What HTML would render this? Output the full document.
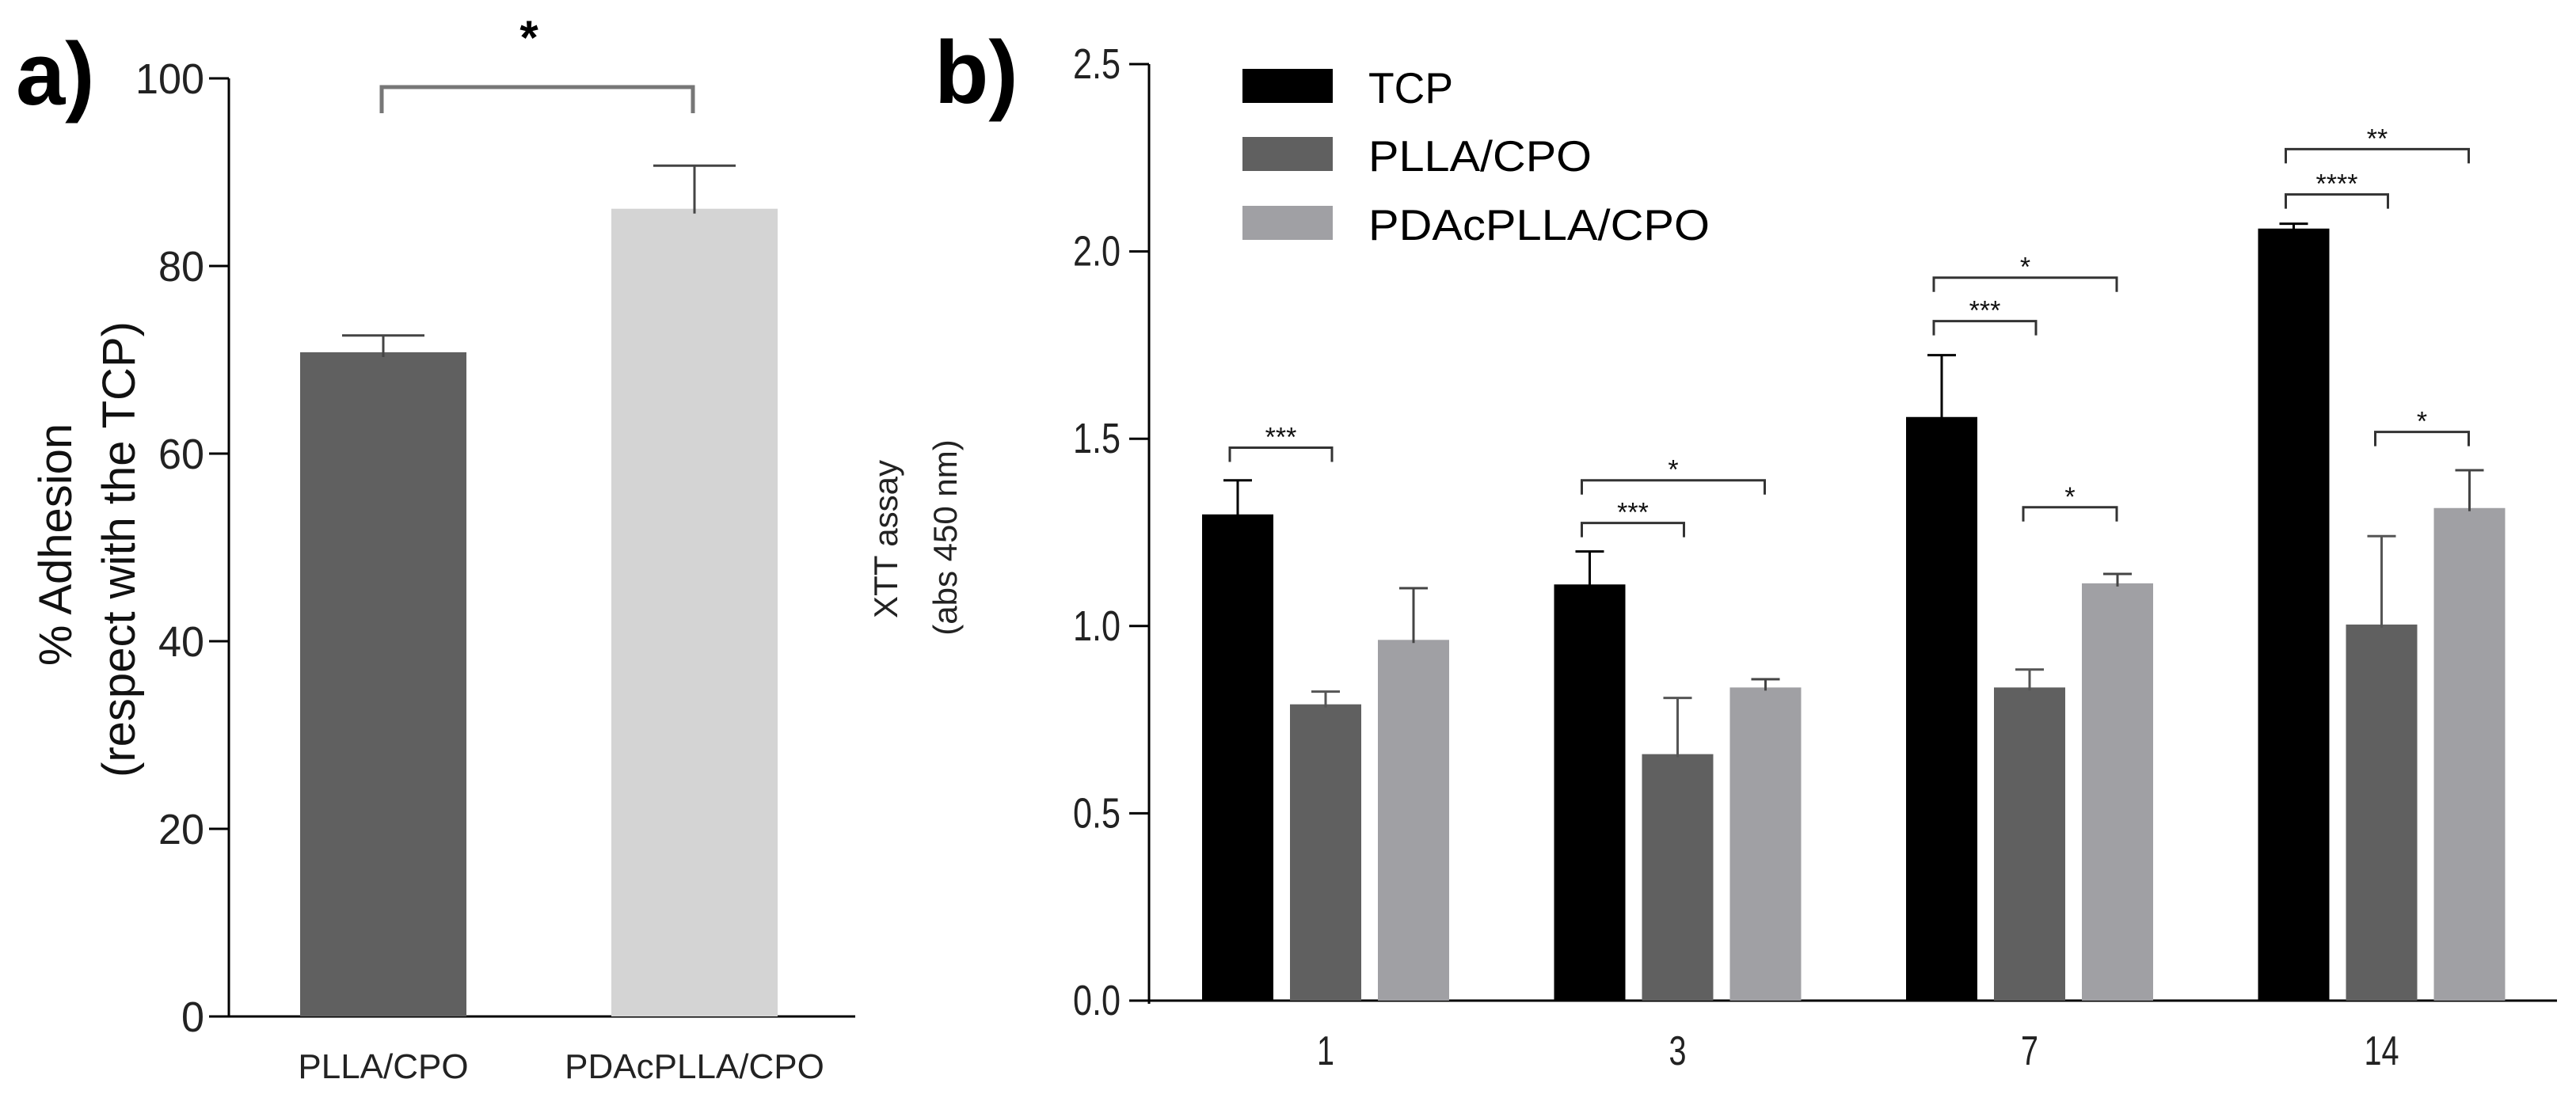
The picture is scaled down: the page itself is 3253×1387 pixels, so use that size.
<!DOCTYPE html>
<html><head><meta charset="utf-8"><style>
html,body{margin:0;padding:0;background:#fff;}
svg{display:block;font-family:"Liberation Sans",sans-serif;}
</style></head><body>
<svg id="fig" width="3253" height="1387" viewBox="0 0 3253 1387" xmlns="http://www.w3.org/2000/svg">
<text x="20" y="132" font-size="112" font-weight="bold">a)</text>
<text x="1180" y="130" font-size="112" font-weight="bold">b)</text>
<g id="pa"></g>
<g id="pb"></g>
</svg>
<script>
// Panel a data
const aCategories = ["PLLA/CPO", "PDAcPLLA/CPO"];
const aValues = [70.8, 86.1];
const aErrors = [1.8, 4.6];
const aTicks = [0, 20, 40, 60, 80, 100];
const aTickLabels = ["0", "20", "40", "60", "80", "100"];
// Panel b data
const bDays = ["1", "3", "7", "14"];
const bSeries = ["TCP", "PLLA/CPO", "PDAcPLLA/CPO"];
const bTCP = [1.298, 1.111, 1.558, 2.061];
const bPLLA = [0.791, 0.658, 0.836, 1.004];
const bPDAc = [0.963, 0.836, 1.114, 1.315];
const bTCPerr = [0.091, 0.088, 0.165, 0.013];
const bPLLAerr = [0.034, 0.150, 0.048, 0.236];
const bPDAcerr = [0.138, 0.022, 0.025, 0.101];
const bTicks = [0, 0.5, 1.0, 1.5, 2.0, 2.5];
const bTickLabels = ["0.0", "0.5", "1.0", "1.5", "2.0", "2.5"];
// significance: [day index, series i, series j, bracket height (data units), label]
const bSig = [
  [0,0,1,1.476,"***"],
  [1,0,1,1.275,"***"],[1,0,2,1.389,"*"],
  [2,0,1,1.814,"***"],[2,0,2,1.930,"*"],[2,1,2,1.317,"*"],
  [3,0,1,2.152,"****"],[3,0,2,2.273,"**"],[3,1,2,1.518,"*"]
];

const NS="http://www.w3.org/2000/svg";
function mk(parent,tag,attrs,text){const e=document.createElementNS(NS,tag);for(const k in attrs)e.setAttribute(k,attrs[k]);if(text!==undefined)e.textContent=text;parent.appendChild(e);return e;}

// ---- Panel a ----
const pa=document.getElementById('pa');
const aY0=1284,aY1=99,aMax=100;
const ay=v=>aY0-(v/aMax)*(aY0-aY1);
const aAxisX=289;
const aCenters=[484,877];
const aBarW=210;
const aColors=["#606060","#d4d4d4"];
let e;
e=mk(pa,'line',{x1:aAxisX,y1:ay(100),x2:aAxisX,y2:aY0,stroke:'#000','stroke-width':3});


e=mk(pa,'line',{x1:aAxisX-25,y1:aY0,x2:1080,y2:aY0,stroke:'#000','stroke-width':3});


aTicks.forEach((t,i)=>{
  const y=ay(t);
  e=mk(pa,'line',{x1:aAxisX-25,y1:y,x2:aAxisX,y2:y,stroke:'#000','stroke-width':3});
  
  
  const lbl=aTickLabels[i];
  e=mk(pa,'text',{x:258,y:y+19,'font-size':54,'text-anchor':'end',fill:'#222',textLength:lbl.length*29,lengthAdjust:'spacingAndGlyphs'},lbl);
  
  
});
aCategories.forEach((c,i)=>{
  const cx=aCenters[i];
  e=mk(pa,'rect',{x:cx-aBarW/2,y:ay(aValues[i]),width:aBarW,height:aY0-ay(aValues[i]),fill:aColors[i]});
  
  
  const ey=ay(aValues[i]+aErrors[i]);
  e=mk(pa,'path',{d:`M${cx} ${ay(aValues[i])+6} V${ey} M${cx-52} ${ey} H${cx+52}`,stroke:'#444','stroke-width':3,fill:'none'});
  
  
  e=mk(pa,'text',{x:cx,y:1362,'font-size':44,'text-anchor':'middle',fill:'#222'},c);
  
  
});
e=mk(pa,'path',{d:`M${aCenters[0]-2} 143 V110 H${aCenters[1]-2} V143`,stroke:'#777','stroke-width':5,fill:'none'});


e=mk(pa,'text',{x:668,y:68,'font-size':60,'text-anchor':'middle','font-weight':'bold'},'*');


e=mk(pa,'text',{x:0,y:0,'font-size':58,'text-anchor':'middle',fill:'#111',transform:'translate(90,688) rotate(-90)'},'% Adhesion');


e=mk(pa,'text',{x:0,y:0,'font-size':58,'text-anchor':'middle',fill:'#111',transform:'translate(170,694) rotate(-90)'},'(respect with the TCP)');



// ---- Panel b ----
const pb=document.getElementById('pb');
const bY0=1264,bY1=81,bMax=2.5;
const by=v=>bY0-(v/bMax)*(bY0-bY1);
const bAxisX=1451;
const gx=i=>1674+i*444.5;
const bBarW=90, bStep=111;
const sx=(g,s)=>gx(g)+(s-1)*bStep;
const bColors=["#000000","#606060","#a0a0a4"];
const bErrColors=["#000000","#555555","#444444"];
const bVals=[bTCP,bPLLA,bPDAc];
const bErrs=[bTCPerr,bPLLAerr,bPDAcerr];
e=mk(pb,'line',{x1:bAxisX,y1:by(2.5),x2:bAxisX,y2:bY0+4,stroke:'#000','stroke-width':3});


e=mk(pb,'line',{x1:bAxisX-25,y1:bY0,x2:3229,y2:bY0,stroke:'#000','stroke-width':3});


bTicks.forEach((t,i)=>{
  const y=by(t);
  e=mk(pb,'line',{x1:bAxisX-25,y1:y,x2:bAxisX,y2:y,stroke:'#000','stroke-width':3});
  
  
  e=mk(pb,'text',{x:1415,y:y+18,'font-size':54,'text-anchor':'end',fill:'#222',textLength:60,lengthAdjust:'spacingAndGlyphs'},bTickLabels[i]);
  
  
});
bDays.forEach((d,g)=>{
  bVals.forEach((arr,s)=>{
    const cx=sx(g,s), top=by(arr[g]);
    e=mk(pb,'rect',{x:cx-bBarW/2,y:top,width:bBarW,height:bY0-top,fill:bColors[s]});
    
    
    const ey=by(arr[g]+bErrs[s][g]);
    e=mk(pb,'path',{d:`M${cx} ${top+4} V${ey} M${cx-18} ${ey} H${cx+18}`,stroke:bErrColors[s],'stroke-width':3,fill:'none'});
    
    
  });
  e=mk(pb,'text',{x:gx(g),y:1345,'font-size':52,'text-anchor':'middle',fill:'#222',textLength:d.length*22,lengthAdjust:'spacingAndGlyphs'},d);
  
  
});
bSig.forEach(s=>{
  const [g,i,j,h,lab]=s;
  const yTop=by(h);
  const x1=sx(g,i)-(i===0?10:8), x2=sx(g,j)+(j===2?-1:8);
  e=mk(pb,'path',{d:`M${x1} ${yTop+18} V${yTop} H${x2} V${yTop+18}`,stroke:'#333','stroke-width':3,fill:'none'});
  
  
  e=mk(pb,'text',{x:(x1+x2)/2,y:yTop-2,'font-size':34,'text-anchor':'middle',fill:'#111'},lab);
  
  
});
const legY=[87,173,260];
bSeries.forEach((n,i)=>{
  e=mk(pb,'rect',{x:1569,y:legY[i],width:114,height:43,fill:bColors[i]});
  
  
  const w=[107,282,431][i];
  e=mk(pb,'text',{x:1728,y:legY[i]+43,'font-size':55,fill:'#000',textLength:w,lengthAdjust:'spacingAndGlyphs'},n);
  
  
});
e=mk(pb,'text',{x:0,y:0,'font-size':42,'text-anchor':'middle',fill:'#222',transform:'translate(1133,681) rotate(-90)'},'XTT assay');


e=mk(pb,'text',{x:0,y:0,'font-size':42,'text-anchor':'middle',fill:'#222',transform:'translate(1208,679) rotate(-90)'},'(abs 450 nm)');


</script>
</body></html>
